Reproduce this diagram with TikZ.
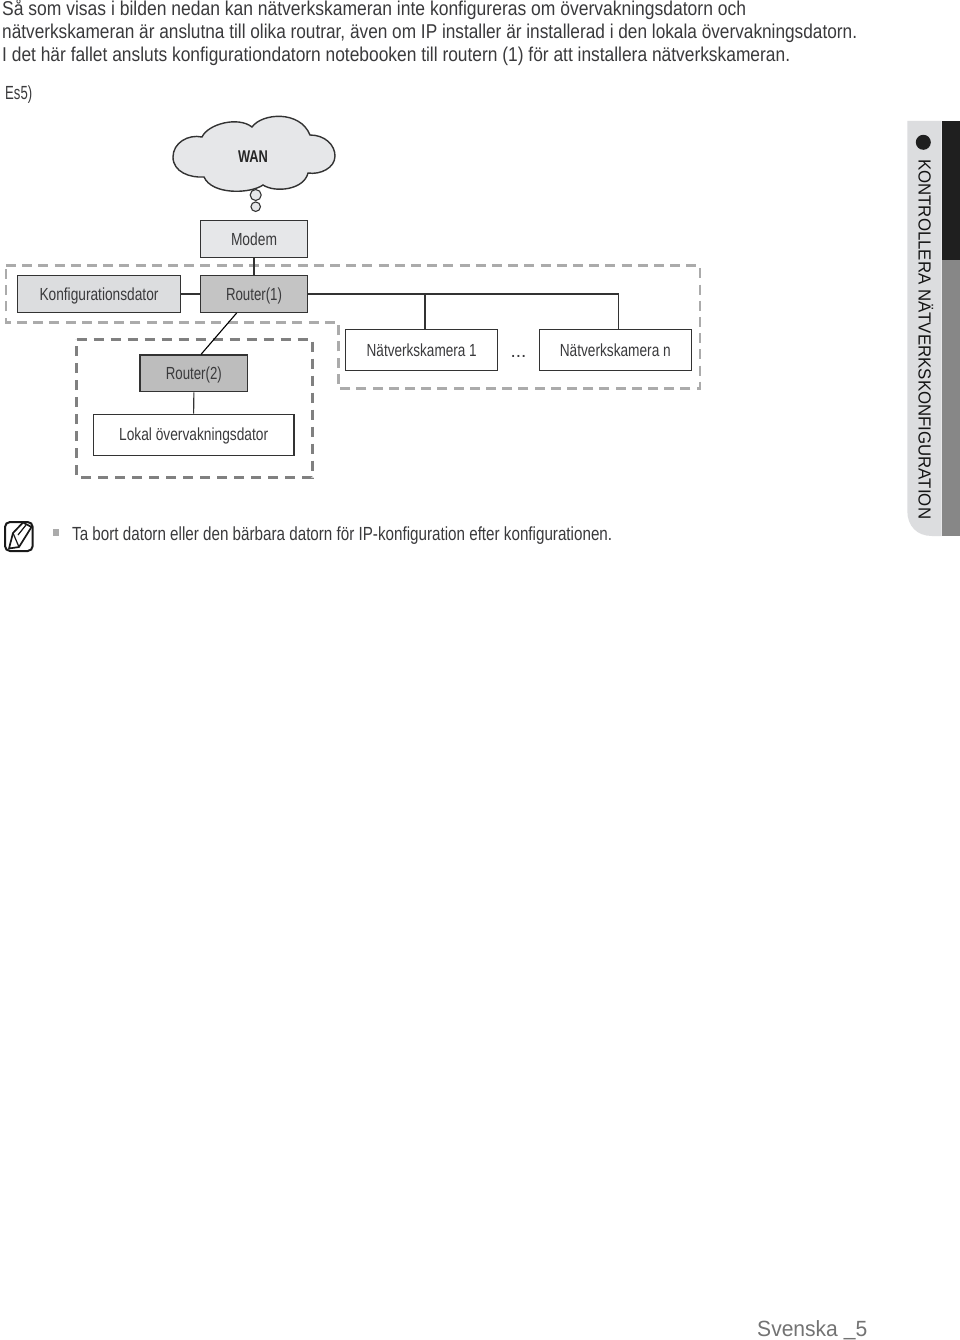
\documentclass[tikz,border=0pt]{standalone}
\usepackage{fontspec}
\setmainfont{Liberation Sans}
\definecolor{ink}{HTML}{3A3A3C}
\definecolor{wire}{HTML}{333333}
\definecolor{dashA}{HTML}{ABABAB}
\definecolor{dashB}{HTML}{808080}
\definecolor{panel}{HTML}{DCDDDF}
\newsavebox{\fitbox}
\newcommand{\fitw}[2]{\sbox{\fitbox}{#2}\pgfmathsetmacro{\fitr}{#1/(\wd\fitbox/1pt)}\scalebox{\fitr}[1]{\usebox{\fitbox}}}
\tikzset{
  x=1pt,y=-1pt,
  bodytext/.style={anchor=base west,inner sep=0pt,text=ink,font=\fontsize{20}{20}\selectfont},
  labeltext/.style={font=\fontsize{17.5}{17.5}\selectfont,text=ink,text height=15pt,text depth=3pt},
  netbox/.style={draw=wire,line width=1.3pt,inner sep=0pt,labeltext},
  wirel/.style={draw=wire,line width=1.1pt},
  outerdash/.style={draw=dashA,line width=2.6pt,dash pattern=on 10pt off 6.2pt},
  innerdash/.style={draw=dashB,line width=3pt,dash pattern=on 10.5pt off 6.5pt}
}
\begin{document}
\begin{tikzpicture}
\useasboundingbox[fill=white] (0,0) rectangle (960,1340);

% header text
\node[bodytext] (t1) at (2,16) {\fitw{744}{Så som visas i bilden nedan kan nätverkskameran inte konfigureras om övervakningsdatorn och}};
\node[bodytext] (t2) at (2,39) {\fitw{855}{nätverkskameran är anslutna till olika routrar, även om IP installer är installerad i den lokala övervakningsdatorn.}};
\node[bodytext] (t3) at (2,62) {\fitw{788}{I det här fallet ansluts konfigurationdatorn notebooken till routern (1) för att installera nätverkskameran.}};
\node[bodytext,font=\fontsize{19}{19}\selectfont] (es) at (5,100) {\fitw{27}{Es5)}};

% dashed zones
\draw[outerdash] (6,265.7) -- (700,265.7) -- (700,388.3) -- (338.5,388.3) -- (338.5,322.7) -- (6,322.7) -- cycle;
\draw[innerdash] (76.7,339) -- (312,339) -- (312,477.7) -- (76.7,477.7) -- cycle;

% cloud
\draw[fill=panel!70!white,draw=wire,line width=1.4pt] (173,157)
  .. controls (173,143) and (188,134) .. (202,137)
  .. controls (208,124) and (238,116) .. (252,127)
  .. controls (262,113) and (300,110) .. (310,135)
  .. controls (325,135) and (335,145) .. (335,156)
  .. controls (335,168) and (320,175) .. (308,173)
  .. controls (304,190) and (275,193) .. (263,185)
  .. controls (250,194) and (212,195) .. (204,177)
  .. controls (190,178) and (173,172) .. (173,157) -- cycle;
\node[anchor=base,inner sep=0pt,text=black!85,font=\fontsize{17}{17}\selectfont\bfseries] (wan) at (253,163) {\fitw{30}{WAN}};
\node[circle,draw=wire,fill=panel!70!white,line width=1.1pt,minimum size=11pt,inner sep=0pt] (c1) at (255.7,195) {};
\node[circle,draw=wire,fill=panel!70!white,line width=1.1pt,minimum size=9.5pt,inner sep=0pt] (c2) at (255.7,206.7) {};

% boxes
\node[netbox,fill=panel!70!white,minimum width=107.4pt,minimum height=36.6pt] (modem) at (254,239) {\fitw{46}{Modem}};
\node[netbox,fill=panel,minimum width=162.6pt,minimum height=36.6pt] (kd) at (99,294) {\fitw{119}{Konfigurationsdator}};
\node[netbox,fill=black!23,minimum width=107.4pt,minimum height=36.6pt] (r1) at (254,294) {\fitw{56}{Router(1)}};
\node[netbox,fill=black!26,minimum width=107.7pt,minimum height=36.7pt] (r2) at (193.85,373.35) {\fitw{56}{Router(2)}};
\node[netbox,fill=white,minimum width=200.7pt,minimum height=41pt] (lok) at (193.65,434.8) {\fitw{149}{Lokal övervakningsdator}};
\node[netbox,fill=white,minimum width=152pt,minimum height=41pt] (cam1) at (421.7,350.2) {\fitw{110}{Nätverkskamera 1}};
\node[netbox,fill=white,minimum width=152pt,minimum height=41pt] (camn) at (615.3,350.2) {\fitw{111}{Nätverkskamera n}};
\node[anchor=base,inner sep=0pt,text=ink,font=\fontsize{19}{19}\selectfont] (dots) at (518.5,357.5) {...};

% connectors
\draw[wirel] (modem.south) -- (r1.north);
\draw[wirel] (kd.east) -- (r1.west);
\draw[wirel] (r1.east) -| ([xshift=3.4pt]camn.north);
\draw[wirel] ([xshift=3.3pt]cam1.north) -- ([xshift=3.3pt]cam1.north |- r1.east);
\draw[wirel,draw=black] ([xshift=-17.3pt]r1.south) -- ([xshift=7.2pt]r2.north);
\draw[wirel] (r2.south) -- (lok.north);

% note
\draw[draw=black!90,line width=2pt,rounded corners=5pt] (5,522) rectangle (32.7,551);
\draw[draw=black!90,line width=1.7pt,line join=round] (13,533) -- (23,522.5) -- (31.5,527) -- (19,547) -- (9,548.5) -- cycle;
\draw[draw=black!90,line width=1.2pt] (18,535) -- (26,525) (13,533) -- (19,547);
\fill[dashA] (52.7,529) rectangle (59.3,535.5);
\node[bodytext,font=\fontsize{19}{19}\selectfont] (note) at (72,540) {\fitw{540}{Ta bort datorn eller den bärbara datorn för IP-konfiguration efter konfigurationen.}};

% side tab
\fill[panel] (907.3,121) -- (941.7,121) -- (941.7,536) -- (932,536) .. controls (917,536) and (907.3,526) .. (907.3,511) -- cycle;
\fill[black!47] (941.7,260) rectangle (960,536);
\fill[black!88] (941.7,121) rectangle (960,260);
\fill[black!88] (923.3,142.3) circle (7.5);
\node[anchor=base west,inner sep=0pt,rotate=-90,text=black!92,font=\fontsize{17.5}{17.5}\selectfont] (tab) at (918.5,159) {\fitw{360}{KONTROLLERA NÄTVERKSKONFIGURATION}};

% footer
\node[bodytext,text=black!55,font=\fontsize{22}{22}\selectfont] (foot) at (757,1336.5) {\fitw{110}{Svenska \raisebox{1.5pt}{\_}5}};
\end{tikzpicture}
\end{document}
